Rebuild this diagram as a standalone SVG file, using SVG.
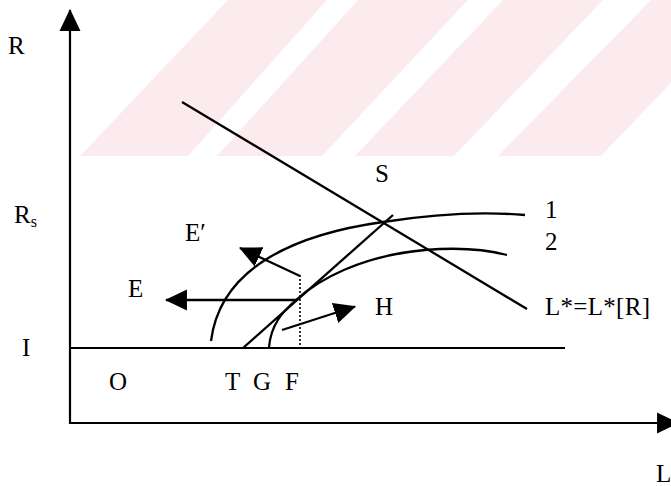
<svg xmlns="http://www.w3.org/2000/svg" width="671" height="486" viewBox="0 0 671 486">
  <style>
    .lbl { font-family: 'Liberation Serif', 'DejaVu Serif', 'Times New Roman', serif; font-size: 25px; fill: #000; }
    .ln { fill: none; stroke: #000; stroke-width: 2.3; stroke-linecap: butt; }
    .ax { fill: none; stroke: #000; stroke-width: 2.2; }
    .dot { fill: none; stroke: #000; stroke-width: 1.6; stroke-dasharray: 2 2; }
    .stripe { fill: #fcebee; }
  </style>
  <defs>
    <marker id="ah" markerUnits="userSpaceOnUse" markerWidth="22" markerHeight="22" viewBox="0 0 21 20" refX="20" refY="10" orient="auto">
      <path d="M0,0 L21,10 L0,20 z" fill="#000"/>
    </marker>
  </defs>
  <rect width="671" height="486" fill="#fff"/>
  <g id="watermark">
    <polygon class="stripe" points="80,156 188,156 327,0 228,0"/>
    <polygon class="stripe" points="217,156 322,156 468,0 358,0"/>
    <polygon class="stripe" points="355,156 454,156 603,0 503,0"/>
    <polygon class="stripe" points="498,156 601,156 750,0 651,0"/>
  </g>
  <g id="axes">
    <line class="ax" x1="70" y1="424" x2="70" y2="10" marker-end="url(#ah)"/>
    <line class="ax" x1="69" y1="423" x2="678" y2="423" marker-end="url(#ah)"/>
    <line class="ax" x1="70" y1="348" x2="565" y2="348"/>
  </g>
  <g id="connectors">
    <line id="lstar" class="ln" x1="182" y1="102" x2="527" y2="309"/>
    <path id="curve1" class="ln" d="M211,341 C220,270 290,235 383,222 C440,213 490,212 525,215"/>
    <path id="curve2" class="ln" d="M269,347 C271,325 282,312 296,300 C318,280 360,256 425,250 C460,247 488,250 507,255"/>
    <line id="tline" class="ln" x1="243" y1="348" x2="393" y2="215"/>
    <line id="fdot" class="dot" x1="300" y1="275" x2="300" y2="348"/>
    <line id="arrE" class="ln" x1="297" y1="300" x2="166" y2="300" marker-end="url(#ah)"/>
    <line id="arrE2" class="ln" x1="300" y1="276" x2="240" y2="248" marker-end="url(#ah)"/>
    <line id="arrH" class="ln" x1="282" y1="330" x2="355" y2="306.5" marker-end="url(#ah)"/>
  </g>
  <g id="labels" font-family="'Liberation Serif', 'DejaVu Serif', serif">
    <text class="lbl" x="8" y="54">R</text>
    <text class="lbl" x="14" y="223">R<tspan font-size="16" dy="4">s</tspan></text>
    <text class="lbl" x="22" y="356">I</text>
    <text class="lbl" x="185" y="241">E′</text>
    <text class="lbl" x="128" y="297">E</text>
    <text class="lbl" x="375" y="182">S</text>
    <text class="lbl" x="545" y="218">1</text>
    <text class="lbl" x="545" y="250">2</text>
    <text class="lbl" x="375" y="315">H</text>
    <text class="lbl" x="545" y="315" textLength="105" lengthAdjust="spacing">L*=L*[R]</text>
    <text class="lbl" x="109" y="390">O</text>
    <text class="lbl" x="225" y="390">T</text>
    <text class="lbl" x="253" y="390">G</text>
    <text class="lbl" x="285" y="390">F</text>
    <text class="lbl" x="656" y="482">L</text>
  </g>
</svg>
